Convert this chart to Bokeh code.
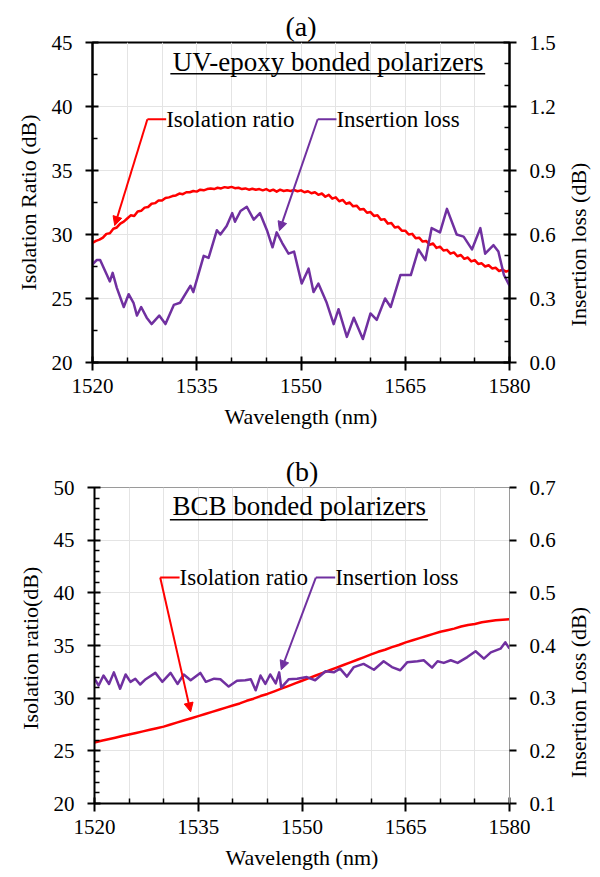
import math
from bokeh.plotting import figure
from bokeh.models import (Range1d, LinearAxis, FixedTicker, NumeralTickFormatter,
                          Label, Arrow, NormalHead)
from bokeh.layouts import column, row
from bokeh.embed import file_html
from bokeh.resources import INLINE

# ---------------- data ----------------
# Panel (a): UV-epoxy bonded polarizers
wl_a_ir = [1520 + 0.5 * i for i in range(121)]
ir_a = [29.35, 29.5, 29.6, 29.75, 30.05, 30.1, 30.45, 30.55, 30.85, 31.0,
        31.25, 31.5, 31.45, 31.8, 31.85, 32.1, 32.15, 32.4, 32.45, 32.65,
        32.65, 32.85, 32.9, 33.0, 33.05, 33.2, 33.15, 33.3, 33.3, 33.4,
        33.35, 33.5, 33.45, 33.55, 33.6, 33.55, 33.65, 33.6, 33.7, 33.65,
        33.72, 33.62, 33.65, 33.55, 33.6, 33.5, 33.58, 33.5, 33.55, 33.45,
        33.55, 33.4, 33.5, 33.35, 33.5, 33.4, 33.45, 33.4, 33.48, 33.38,
        33.45, 33.3, 33.38, 33.22, 33.3, 33.1, 33.2, 32.95, 33.1, 32.8,
        32.9, 32.6, 32.7, 32.4, 32.5, 32.2, 32.25, 31.95, 32.0, 31.7,
        31.75, 31.45, 31.5, 31.15, 31.2, 30.85, 30.9, 30.55, 30.6, 30.3,
        30.3, 30.0, 30.05, 29.7, 29.75, 29.45, 29.5, 29.2, 29.3, 28.95,
        29.05, 28.75, 28.8, 28.5, 28.6, 28.3, 28.4, 28.1, 28.2, 27.9,
        28.0, 27.7, 27.75, 27.5, 27.6, 27.35, 27.4, 27.15, 27.25, 27.1,
        27.2]

wl_a_il = [1520.0, 1520.6, 1521.1, 1521.8, 1522.5, 1522.9, 1523.5, 1524.5, 1525.2, 1525.9,
           1526.4, 1527.0, 1527.8, 1528.5, 1529.6, 1530.5, 1531.7, 1532.6, 1534.1, 1534.5,
           1536.0, 1536.7, 1537.9, 1538.4, 1539.3, 1540.1, 1540.5, 1541.3, 1542.2, 1543.2,
           1544.1, 1545.1, 1545.9, 1546.5, 1547.3, 1548.2, 1549.0, 1550.1, 1551.1, 1551.8,
           1552.5, 1553.7, 1554.7, 1555.4, 1556.6, 1557.6, 1558.9, 1560.0, 1560.9, 1562.1,
           1562.9, 1564.3, 1565.8, 1566.9, 1567.9, 1568.8, 1570.0, 1571.0, 1572.4, 1573.4,
           1574.6, 1575.8, 1576.5, 1577.7, 1578.4, 1579.2, 1580.0]
il_a = [0.46, 0.48, 0.48, 0.43, 0.38, 0.42, 0.35, 0.26, 0.32, 0.28,
        0.22, 0.26, 0.21, 0.18, 0.22, 0.18, 0.27, 0.28, 0.36, 0.33,
        0.50, 0.49, 0.62, 0.60, 0.64, 0.70, 0.66, 0.71, 0.73, 0.67,
        0.70, 0.62, 0.54, 0.61, 0.56, 0.51, 0.52, 0.37, 0.44, 0.33,
        0.37, 0.28, 0.18, 0.25, 0.12, 0.21, 0.11, 0.23, 0.20, 0.30,
        0.26, 0.41, 0.41, 0.53, 0.48, 0.63, 0.61, 0.72, 0.60, 0.59,
        0.53, 0.63, 0.51, 0.55, 0.52, 0.41, 0.36]

# Panel (b): BCB bonded polarizers
wl_b_ir = [1520 + i for i in range(61)]
ir_b = [25.8, 25.95, 26.1, 26.25, 26.4, 26.55, 26.7, 26.85, 27.0, 27.15,
        27.3, 27.5, 27.7, 27.9, 28.1, 28.3, 28.5, 28.7, 28.9, 29.1,
        29.3, 29.5, 29.75, 29.95, 30.2, 30.4, 30.65, 30.9, 31.15, 31.4,
        31.65, 31.9, 32.15, 32.4, 32.65, 32.9, 33.15, 33.4, 33.65, 33.9,
        34.15, 34.4, 34.6, 34.85, 35.05, 35.3, 35.5, 35.7, 35.9, 36.1,
        36.3, 36.45, 36.6, 36.8, 36.95, 37.05, 37.2, 37.3, 37.4, 37.45,
        37.5]

wl_b_il = [1520.0, 1520.6, 1521.3, 1522.1, 1522.8, 1523.7, 1524.5, 1525.2, 1525.9, 1526.6,
           1527.4, 1528.8, 1529.8, 1531.0, 1532.0, 1532.9, 1533.9, 1535.3, 1536.1, 1537.3,
           1538.2, 1539.4, 1540.6, 1541.8, 1542.6, 1543.3, 1544.0, 1544.7, 1545.4, 1546.2,
           1546.7, 1547.0, 1548.1, 1549.3, 1550.7, 1551.9, 1553.4, 1554.6, 1555.5, 1556.5,
           1557.5, 1558.9, 1560.4, 1561.8, 1563.0, 1564.2, 1565.2, 1566.7, 1567.6, 1568.8,
           1569.6, 1570.5, 1571.5, 1572.5, 1573.9, 1575.1, 1576.3, 1577.3, 1578.7, 1579.4,
           1580.0]
il_b = [0.337, 0.324, 0.343, 0.327, 0.349, 0.318, 0.345, 0.331, 0.337, 0.326,
        0.336, 0.348, 0.331, 0.348, 0.327, 0.345, 0.334, 0.348, 0.331, 0.337,
        0.336, 0.322, 0.333, 0.334, 0.336, 0.315, 0.343, 0.327, 0.345, 0.328,
        0.349, 0.320, 0.336, 0.337, 0.340, 0.334, 0.351, 0.349, 0.356, 0.341,
        0.359, 0.365, 0.354, 0.370, 0.359, 0.353, 0.368, 0.370, 0.372, 0.358,
        0.370, 0.367, 0.372, 0.367, 0.378, 0.389, 0.375, 0.387, 0.394, 0.406,
        0.394]

# ticks
x_major = [1520, 1535, 1550, 1565, 1580]
x_minor = [1525, 1530, 1540, 1545, 1555, 1560, 1570, 1575]
ya_major = [20, 25, 30, 35, 40, 45]
ya_minor = [22.5, 27.5, 32.5, 37.5, 42.5]
ra_major = [0.0, 0.3, 0.6, 0.9, 1.2, 1.5]
ra_minor = [0.1, 0.2, 0.4, 0.5, 0.7, 0.8, 1.0, 1.1, 1.3, 1.4]
yb_major = [20, 25, 30, 35, 40, 45, 50]
yb_minor = [v for v in range(20, 51) if v % 5 != 0]
rb_major = [0.1, 0.2, 0.3, 0.4, 0.5, 0.6, 0.7]

FONT = "'Liberation Serif', 'Times New Roman', serif"
RED = "#FF0000"
PURPLE = "#7030A0"
GRID = "#E4E4E4"
SIDE_W = 40


def style_axis(ax, maj_in, maj_out, min_in, min_out, color="black", width=2, standoff=12):
    ax.axis_line_color = color
    ax.axis_line_width = width
    ax.major_tick_line_color = "black"
    ax.major_tick_line_width = 2
    ax.minor_tick_line_color = "black"
    ax.minor_tick_line_width = 1.5
    ax.major_tick_in = maj_in
    ax.major_tick_out = maj_out
    ax.minor_tick_in = min_in
    ax.minor_tick_out = min_out
    ax.major_label_text_font = FONT
    ax.major_label_text_font_size = "21px"
    ax.major_label_text_color = "black"
    ax.major_label_standoff = standoff
    ax.axis_label_text_font = FONT
    ax.axis_label_text_font_size = "22px"
    ax.axis_label_text_font_style = "normal"
    ax.axis_label_text_color = "black"
    ax.axis_label_standoff = 8


def make_panel(cfg):
    p = figure(frame_width=cfg["fw"], frame_height=cfg["fh"],
               x_range=Range1d(1520, 1580), y_range=Range1d(*cfg["yr"]),
               output_backend="svg", toolbar_location=None,
               min_border_left=cfg["bl"], min_border_right=cfg["br"],
               min_border_top=cfg["bt"], min_border_bottom=cfg["bb"])
    p.background_fill_color = "white"
    p.border_fill_color = "white"
    p.outline_line_color = cfg["outline"]
    p.outline_line_width = cfg["outline_w"]
    p.extra_y_ranges = {"il": Range1d(*cfg["rr"])}

    # panel letter as title
    p.title.text = cfg["letter"]
    p.title.align = "center"
    p.title.offset = cfg["letter_off"]
    p.title.text_font = FONT
    p.title.text_font_size = "28px"
    p.title.text_font_style = "normal"
    p.title.text_color = "black"
    p.title.standoff = 2

    # grid
    p.xgrid.grid_line_color = GRID
    p.xgrid.minor_grid_line_color = GRID
    p.ygrid.grid_line_color = GRID
    p.xgrid.grid_line_width = 1
    p.ygrid.grid_line_width = 1

    # x axis
    xa = p.xaxis[0]
    xa.ticker = FixedTicker(ticks=x_major, minor_ticks=x_minor)
    xa.axis_label = "Wavelength (nm)"
    style_axis(xa, 6, 8, 5, 0, standoff=8)

    # left axis
    ya = p.yaxis[0]
    ya.ticker = FixedTicker(ticks=cfg["ymaj"], minor_ticks=cfg["ymin"])
    ya.axis_label = cfg["ylabel"]
    style_axis(ya, 6, 7, 5, 0, standoff=13)

    # right axis (its title is drawn in a narrow side panel so it reads upward)
    ra = LinearAxis(y_range_name="il")
    ra.ticker = FixedTicker(ticks=cfg["rmaj"], minor_ticks=cfg["rmin"])
    ra.formatter = NumeralTickFormatter(format="0.0")
    style_axis(ra, cfg["r_in"], 7, 5, 0, color=cfg["r_color"], width=cfg["r_w"], standoff=13)
    p.add_layout(ra, "right")

    # data
    p.line(cfg["wl_ir"], cfg["ir"], line_color=RED, line_width=2.5, line_join="round")
    p.line(cfg["wl_il"], cfg["il"], line_color=PURPLE, line_width=2.5, line_join="round",
           y_range_name="il")

    # underlined heading
    p.add_layout(Label(x=cfg["head_x"], y=cfg["head_y"], text=cfg["heading"],
                       text_font=FONT, text_font_size="27px", text_align="center",
                       text_baseline="middle", text_color="black"))
    p.segment(x0=[cfg["ul"][0]], y0=[cfg["ul"][2]], x1=[cfg["ul"][1]], y1=[cfg["ul"][2]],
              line_color="black", line_width=1.5)

    # callouts
    for (tx, ty, text, color, ax0, ax1, ay) in cfg["callouts"]:
        p.add_layout(Label(x=tx, y=ty, text=text, text_font=FONT, text_font_size="23px",
                           text_align="left", text_baseline="middle", text_color="black"))
        p.segment(x0=[ax0], y0=[ty], x1=[tx], y1=[ty], line_color=color, line_width=2)
        p.add_layout(Arrow(end=NormalHead(size=9, fill_color=color, line_color=color),
                           x_start=ax0, y_start=ty, x_end=ax1, y_end=ay,
                           line_color=color, line_width=2))

    # side panel carrying the right-axis title
    H = cfg["bt"] + cfg["fh"] + cfg["bb"]
    s = figure(frame_width=SIDE_W, frame_height=H, x_range=Range1d(0, SIDE_W),
               y_range=Range1d(0, H), output_backend="svg", toolbar_location=None,
               x_axis_type=None, y_axis_type=None, min_border=0)
    s.outline_line_color = None
    s.grid.visible = False
    s.background_fill_color = "white"
    s.border_fill_color = "white"
    s.add_layout(Label(x=cfg["rlab_x"], y=H - (cfg["bt"] + cfg["fh"] / 2), text=cfg["rlabel"],
                       angle=math.pi / 2, text_font=FONT, text_font_size="22px",
                       text_align="center", text_baseline="middle", text_color="black"))
    return row(p, s, spacing=0)


pa = make_panel(dict(
    fw=417, fh=320, yr=(20, 45), rr=(0, 1.5), bl=92, br=51, bt=42, bb=78,
    outline="black", outline_w=2,
    ymaj=ya_major, ymin=ya_minor, rmaj=ra_major, rmin=ra_minor,
    ylabel="Isolation Ratio (dB)", rlabel="Insertion loss (dB)", rlab_x=18,
    r_in=6, r_color="black", r_w=2,
    wl_ir=wl_a_ir, ir=ir_a, wl_il=wl_a_il, il=il_a,
    letter="(a)", letter_off=12,
    heading="UV-epoxy bonded polarizers", head_x=1553.9, head_y=43.5,
    ul=(1531.2, 1576.5, 42.55),
    callouts=[(1530.6, 39.0, "Isolation ratio", RED, 1527.9, 1523.2, 30.7),
              (1555.1, 39.0, "Insertion loss", PURPLE, 1552.4, 1546.9, 30.3)],
))

pb = make_panel(dict(
    fw=415, fh=316, yr=(20, 50), rr=(0.1, 0.7), bl=94, br=51, bt=47, bb=66,
    outline="#9A9A9A", outline_w=1,
    ymaj=yb_major, ymin=yb_minor, rmaj=rb_major, rmin=[],
    ylabel="Isolation  ratio(dB)", rlabel="Insertion Loss (dB)", rlab_x=18,
    r_in=0, r_color="#9A9A9A", r_w=1,
    wl_ir=wl_b_ir, ir=ir_b, wl_il=wl_b_il, il=il_b,
    letter="(b)", letter_off=5,
    heading="BCB bonded polarizers", head_x=1549.6, head_y=48.2,
    ul=(1530.9, 1568.2, 46.93),
    callouts=[(1532.3, 41.45, "Isolation ratio", RED, 1529.5, 1533.9, 28.7),
              (1554.8, 41.45, "Insertion loss", PURPLE, 1552.0, 1547.0, 32.7)],
))

layout = column(pa, pb, spacing=0)
open("out.html", "w").write(file_html(layout, INLINE))
